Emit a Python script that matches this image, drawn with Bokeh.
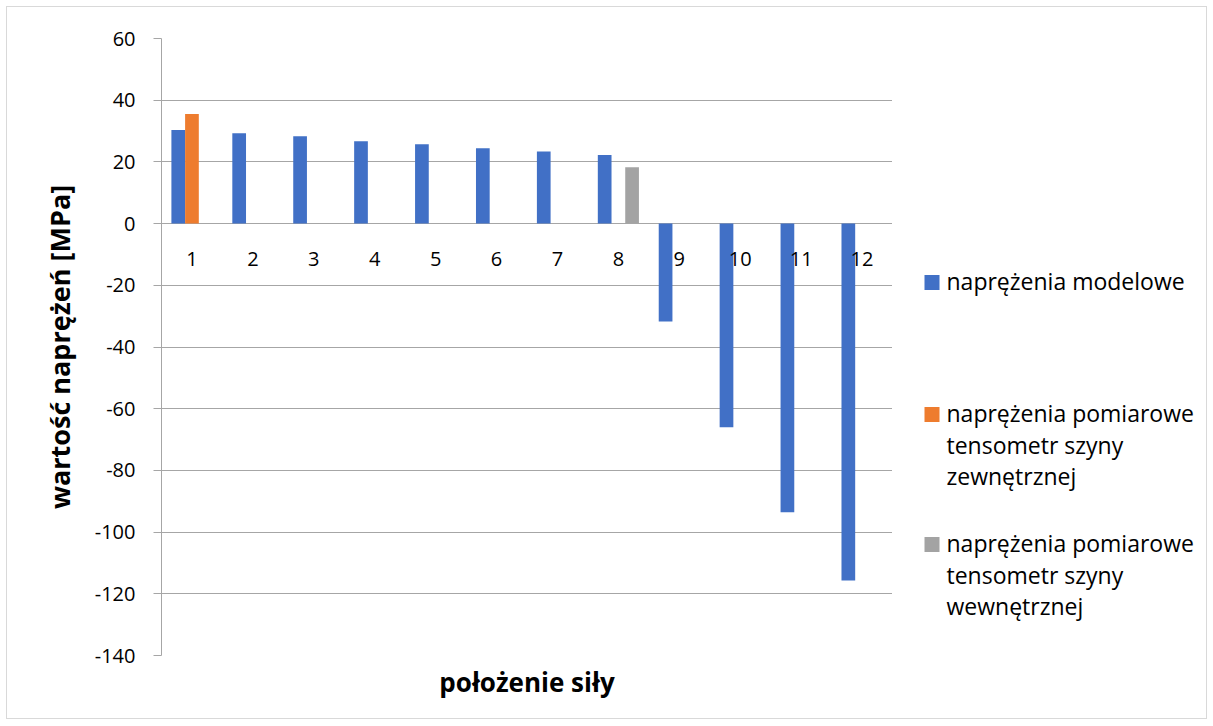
from bokeh.plotting import figure
from bokeh.models import (FactorRange, Range1d, FixedTicker, ColumnDataSource, Title)
from bokeh.layouts import row
from bokeh.transform import dodge
from bokeh.core.properties import value
from bokeh.embed import file_html
from bokeh.resources import INLINE

# ---- data ----
categories = ["1", "2", "3", "4", "5", "6", "7", "8", "9", "10", "11", "12"]
model_vals = [30.3, 29.3, 28.3, 26.7, 25.7, 24.4, 23.4, 22.2, -31.7, -66.0, -93.6, -115.7]
outer_cats = ["1"]
outer_vals = [35.5]
inner_cats = ["8"]
inner_vals = [18.3]
y_ticks = [-140, -120, -100, -80, -60, -40, -20, 0, 20, 40, 60]

series_names = [
    "naprężenia modelowe",
    "naprężenia pomiarowe\ntensometr szyny\nzewnętrznej",
    "naprężenia pomiarowe\ntensometr szyny\nwewnętrznej",
]

FONT = "Open Sans"
BLUE = "#4170c6"
ORANGE = "#ee7c2e"
GRAY = "#a3a3a3"
series_colors = [BLUE, ORANGE, GRAY]

H = 711
MB_TOP, MB_BOTTOM = 31, 63
p = figure(width=885, height=H, x_range=FactorRange(*categories, range_padding=0),
           y_range=Range1d(-140, 60), output_backend="svg", toolbar_location=None,
           min_border_left=154, min_border_right=0, min_border_top=MB_TOP,
           min_border_bottom=MB_BOTTOM)
p.outline_line_color = None

off = 0.225
wid = 0.225
src_m = ColumnDataSource(dict(x=categories, top=model_vals))
src_o = ColumnDataSource(dict(x=outer_cats, top=outer_vals))
src_i = ColumnDataSource(dict(x=inner_cats, top=inner_vals))
p.vbar(x=dodge("x", -off, range=p.x_range), top="top", bottom=0, width=wid,
       source=src_m, fill_color=BLUE, line_color=None)
p.vbar(x=dodge("x", 0, range=p.x_range), top="top", bottom=0, width=wid,
       source=src_o, fill_color=ORANGE, line_color=None)
p.vbar(x=dodge("x", off, range=p.x_range), top="top", bottom=0, width=wid,
       source=src_i, fill_color=GRAY, line_color=None)

# category labels next to the zero line
p.text(x=categories, y=[0] * len(categories), text=categories, y_offset=35,
       text_align="center", text_baseline="middle", text_font=value(FONT),
       text_font_size="20px", text_color="#000000")

# y axis
p.yaxis.ticker = FixedTicker(ticks=y_ticks)
p.yaxis.major_label_overrides = {t: str(t) for t in y_ticks}
p.yaxis.major_label_text_font = FONT
p.yaxis.major_label_text_font_size = "20px"
p.yaxis.major_label_text_color = "#000000"
p.yaxis.axis_line_color = "#a6a6a6"
p.yaxis.major_tick_line_color = "#a6a6a6"
p.yaxis.major_tick_out = 8
p.yaxis.major_tick_in = 0
p.yaxis.minor_tick_line_color = None
p.yaxis.major_label_standoff = 18
p.yaxis.axis_label = "wartość naprężeń [MPa]"
p.yaxis.axis_label_text_font = FONT
p.yaxis.axis_label_text_font_style = "bold"
p.yaxis.axis_label_text_font_size = "27px"
p.yaxis.axis_label_text_color = "#000000"
p.yaxis.axis_label_standoff = 14

p.xaxis.visible = False
p.add_layout(Title(text="położenie siły", align="center", text_font=FONT,
                   text_font_size="26px", text_font_style="bold",
                   text_color="#000000", standoff=12), "below")

p.xgrid.grid_line_color = None
p.ygrid.grid_line_color = "#a6a6a6"
p.ygrid.grid_line_width = 1

# ---- legend panel (its frame is aligned with the main frame: page y 38..655) ----
lf = figure(width=314, height=H, x_range=Range1d(892, 1206), y_range=Range1d(655, 38),
            output_backend="svg", toolbar_location=None,
            min_border_left=0, min_border_right=0, min_border_top=MB_TOP,
            min_border_bottom=MB_BOTTOM)
lf.axis.visible = False
lf.grid.grid_line_color = None
lf.outline_line_color = None

first_line_y = [283, 415, 545]
fs = 23
line_px = 31
lf.rect(x=[931.5] * 3, y=[v - 1 for v in first_line_y], width=15, height=15,
        fill_color=series_colors, line_color=None)
lf.text(x=[946] * 3, y=[v - line_px / 2 - 3 for v in first_line_y], text=series_names,
        text_align="left", text_baseline="top", text_font=value(FONT),
        text_font_size=f"{fs}px", text_line_height=0.985, text_color="#000000")

layout = row(p, lf, margin=(7, 0, 0, 7),
             styles={"outline": "1px solid #d9d9d9"})

open("out.html", "w").write(file_html(layout, INLINE))
